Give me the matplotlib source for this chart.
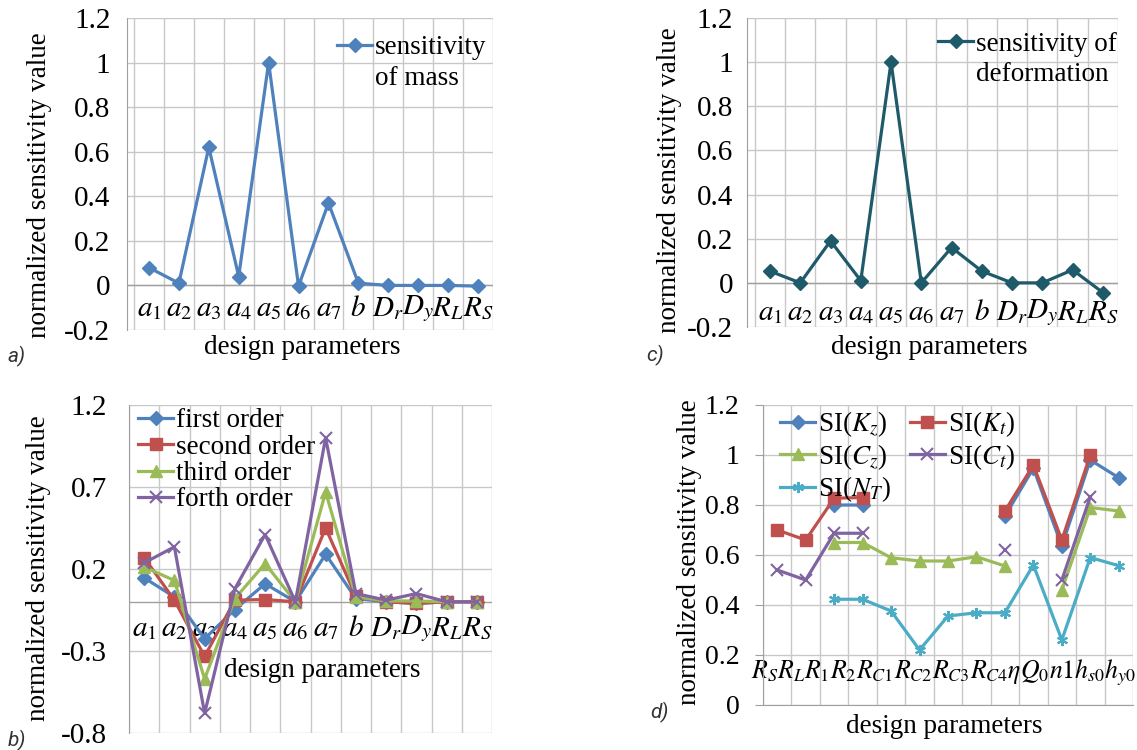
import matplotlib
matplotlib.use('Agg')
import matplotlib.pyplot as plt
from matplotlib.lines import Line2D
import numpy as np

plt.rcParams['font.family'] = ['Liberation Serif', 'DejaVu Serif']
plt.rcParams['mathtext.fontset'] = 'stix'
plt.rcParams['axes.unicode_minus'] = False

nan = np.nan

# ---------------- data ----------------
# panels a), b), c) share the same design parameters
params_abc = [r'$a_1$', r'$a_2$', r'$a_3$', r'$a_4$', r'$a_5$', r'$a_6$',
              r'$a_7$', r'$b$', r'$D_r$', r'$D_y$', r'$R_L$', r'$R_S$']

# a) sensitivity of mass
mass_sens = [0.08, 0.01, 0.62, 0.04, 1.0, -0.003, 0.37, 0.01, 0.0, 0.0, 0.0, -0.003]

# c) sensitivity of deformation
deform_sens = [0.053, 0.0, 0.19, 0.01, 1.0, 0.0, 0.16, 0.053, 0.0, 0.0, 0.059, -0.044]

# b) sensitivity by order
first_order = [0.146, 0.03, -0.225, -0.047, 0.11, 0.0, 0.29, 0.02, 0.0, -0.01, 0.0, 0.0]
second_order = [0.27, 0.01, -0.333, 0.01, 0.014, 0.0, 0.45, 0.034, 0.0, -0.01, 0.0, 0.0]
third_order = [0.213, 0.13, -0.47, 0.02, 0.233, 0.0, 0.67, 0.03, 0.005, 0.005, 0.0, 0.0]
forth_order = [0.237, 0.335, -0.68, 0.08, 0.41, 0.0, 1.0, 0.05, 0.01, 0.05, 0.0, 0.0]

# d) sensitivity indices
params_d = [r'R_S', r'R_L', r'R_1', r'R_2', r'R_{C1}', r'R_{C2}', r'R_{C3}',
            r'R_{C4}', r'\eta ', r'Q_0', r'n1', r'h_{s0}', r'h_{y0}']
si_kz = [nan, nan, 0.80, 0.80, nan, nan, nan, nan, 0.756, 0.947, 0.636, 0.98, 0.909]
si_kt = [0.70, 0.66, 0.827, 0.83, nan, nan, nan, nan, 0.776, 0.96, 0.66, 1.0, nan]
si_cz = [nan, nan, 0.65, 0.65, 0.589, 0.576, 0.576, 0.593, 0.556, nan, 0.46, 0.79, 0.776]
si_ct = [0.54, 0.50, 0.687, 0.687, nan, nan, nan, nan, 0.62, nan, 0.50, 0.833, nan]
si_nt = [nan, nan, 0.423, 0.423, 0.376, 0.22, 0.356, 0.369, 0.369, 0.56, 0.26, 0.59, 0.557]

# excel-like colors
BLUE = '#4F81BD'
RED = '#C0504D'
GREEN = '#9BBB59'
PURPLE = '#8064A2'
CYAN = '#4BACC6'
TEAL = '#1F5A6A'
GRID = '#c8c8c8'
AXIS = '#a0a0a0'

FS = 19.5     # axis titles, legends
TICK_FS = 21  # y tick labels
CAT_FS = 21   # category labels

W, H = 1137, 750
fig = plt.figure(figsize=(W / 100, H / 100), dpi=100)


def box(l, t, r, b):
    # pixel box -> figure fraction
    return [l / W, 1 - b / H, (r - l) / W, (b - t) / H]


def style_axes(ax, n, xmin, yticks, ylabels, ypad, tick_fs=TICK_FS):
    # grid, spines and tick labels common to every panel
    ax.set_xlim(xmin, n + 0.5)
    ax.set_ylim(yticks[0], yticks[-1])
    ax.set_xticks(np.arange(0.5, n + 1, 1.0))
    ax.set_xticklabels([])
    ax.set_yticks(yticks)
    ax.set_yticklabels(ylabels)
    ax.tick_params(axis='x', length=0)
    ax.tick_params(axis='y', length=0, pad=ypad, labelsize=tick_fs)
    ax.grid(True, color=GRID, lw=1)
    ax.set_axisbelow(True)
    for s in ax.spines.values():
        s.set_visible(False)
    ax.spines['left'].set_visible(True)
    ax.spines['left'].set_color(AXIS)


mk = dict(lw=2.3, markersize=8)
leg_kw = dict(loc='upper left', frameon=False, fontsize=FS, handlelength=1.3,
              handletextpad=0.1, borderpad=0, borderaxespad=0)

# ---------------- a) ----------------
ax = fig.add_axes(box(127, 18, 493, 330))
x = np.arange(1, len(params_abc) + 1)
style_axes(ax, 12, 0.266, [-0.2, 0, 0.2, 0.4, 0.6, 0.8, 1, 1.2],
           ['-0.2', '0', '0.2', '0.4', '0.6', '0.8', '1', '1.2'], 12)
ax.axhline(0, color=AXIS, lw=1, zorder=1)
ln, = ax.plot(x, mass_sens, color=BLUE, marker='D', markersize=7, lw=2.3, zorder=3)
for xi, lab in zip(x, params_abc):
    ax.text(xi, -0.105, lab, ha='center', va='center', fontsize=CAT_FS, zorder=2)
ax.legend([ln, Line2D([], [], color='none')], ['sensitivity', 'of mass'],
          bbox_to_anchor=(0.574, 0.945), labelspacing=0.2, **leg_kw)
ax.set_ylabel('normalized sensitivity value', fontsize=FS)
ax.yaxis.set_label_coords(-0.205, 0.465)
ax.text(0.478, -0.055, 'design parameters', transform=ax.transAxes,
        ha='center', va='center', fontsize=FS)

# ---------------- c) ----------------
ax = fig.add_axes(box(747, 18, 1118, 327))
style_axes(ax, 12, 0.24, [-0.2, 0, 0.2, 0.4, 0.6, 0.8, 1, 1.2],
           ['-0.2', '0', '0.2', '0.4', '0.6', '0.8', '1', '1.2'], 10)
ax.axhline(0, color=AXIS, lw=1, zorder=1)
ln, = ax.plot(x, deform_sens, color=TEAL, marker='D', markersize=7, lw=2.3, zorder=3)
for xi, lab in zip(x, params_abc):
    ax.text(xi, -0.135, lab, ha='center', va='center', fontsize=CAT_FS, zorder=2)
ax.legend([ln, Line2D([], [], color='none')], ['sensitivity of', 'deformation'],
          bbox_to_anchor=(0.515, 0.955), labelspacing=0.2, **leg_kw)
ax.set_ylabel('normalized sensitivity value', fontsize=FS)
ax.yaxis.set_label_coords(-0.175, 0.476)
ax.text(0.49, -0.065, 'design parameters', transform=ax.transAxes,
        ha='center', va='center', fontsize=FS)

# ---------------- b) ----------------
ax = fig.add_axes(box(129, 405, 492, 733))
style_axes(ax, 12, 0.5, [-0.8, -0.3, 0.2, 0.7, 1.2],
           ['-0.8', '-0.3', '0.2', '0.7', '1.2'], 16)
ax.axhline(0, color=AXIS, lw=1, zorder=1)
for xi, lab in zip(x, params_abc):
    ax.text(xi, -0.165, lab, ha='center', va='center', fontsize=CAT_FS, zorder=2)
ax.plot(x, first_order, color=BLUE, marker='D', label='first order', zorder=3, lw=2.3, markersize=7)
ax.plot(x, second_order, color=RED, marker='s', label='second order', zorder=3, **mk)
ax.plot(x, third_order, color=GREEN, marker='^', label='third order', zorder=3, **mk)
ax.plot(x, forth_order, color=PURPLE, marker='x', mew=1.5, label='forth order', zorder=3, **mk)
ax.legend(bbox_to_anchor=(0.025, 0.99), labelspacing=0.05, **leg_kw)
ax.set_ylabel('normalized sensitivity value', fontsize=FS)
ax.yaxis.set_label_coords(-0.215, 0.503)
ax.text(6.9, -0.42, 'design parameters', ha='center', va='center', fontsize=FS)

# ---------------- d) ----------------
ax = fig.add_axes(box(763, 405, 1133, 705))
xd = np.arange(1, len(params_d) + 1)
style_axes(ax, 13, 0.5, [0, 0.2, 0.4, 0.6, 0.8, 1, 1.2],
           ['0', '0.2', '0.4', '0.6', '0.8', '1', '1.2'], 11, tick_fs=20)
ax.tick_params(axis='y', length=6, color=AXIS, direction='out')
ax.spines['bottom'].set_visible(True)
ax.spines['bottom'].set_color(AXIS)
ax.set_xticks(np.arange(0.5, 14, 2.0), minor=True)
ax.tick_params(axis='x', which='minor', length=6, color=AXIS, direction='out')
h_kz, = ax.plot(xd, si_kz, color=BLUE, marker='D', lw=2.3, markersize=7, zorder=3)
h_kt, = ax.plot(xd, si_kt, color=RED, marker='s', zorder=3, **mk)
h_cz, = ax.plot(xd, si_cz, color=GREEN, marker='^', zorder=3, **mk)
h_ct, = ax.plot(xd, si_ct, color=PURPLE, marker='x', mew=1.5, zorder=3, **mk)
h_nt, = ax.plot(xd, si_nt, color=CYAN, marker=(6, 2, 0), mew=1.5, zorder=3, **mk)
ax.text(6.85, 0.128, '$' + ''.join(params_d) + '$', ha='center', va='center',
        fontsize=18.5, zorder=2)
ax.legend([h_kz, h_cz, h_nt, h_kt, h_ct],
          [r'SI($K_z$)', r'SI($C_z$)', r'SI($N_T$)', r'SI($K_t$)', r'SI($C_t$)'],
          ncol=2, bbox_to_anchor=(0.046, 0.985), labelspacing=0.1,
          columnspacing=0.7, **leg_kw)
ax.set_ylabel('normalized sensitivity value', fontsize=FS)
ax.yaxis.set_label_coords(-0.165, 0.51)
ax.text(0.49, -0.073, 'design parameters', transform=ax.transAxes,
        ha='center', va='center', fontsize=FS)

# panel letters
lab_kw = dict(family='Roboto', style='italic', fontsize=15, color='#333333',
              ha='left', va='center')
fig.text(8 / W, 1 - 356 / H, 'a)', **lab_kw)
fig.text(646 / W, 1 - 355 / H, 'c)', **lab_kw)
fig.text(8 / W, 1 - 740 / H, 'b)', **lab_kw)
fig.text(650 / W, 1 - 712 / H, 'd)', **lab_kw)

fig.savefig('out.png', dpi=100)
